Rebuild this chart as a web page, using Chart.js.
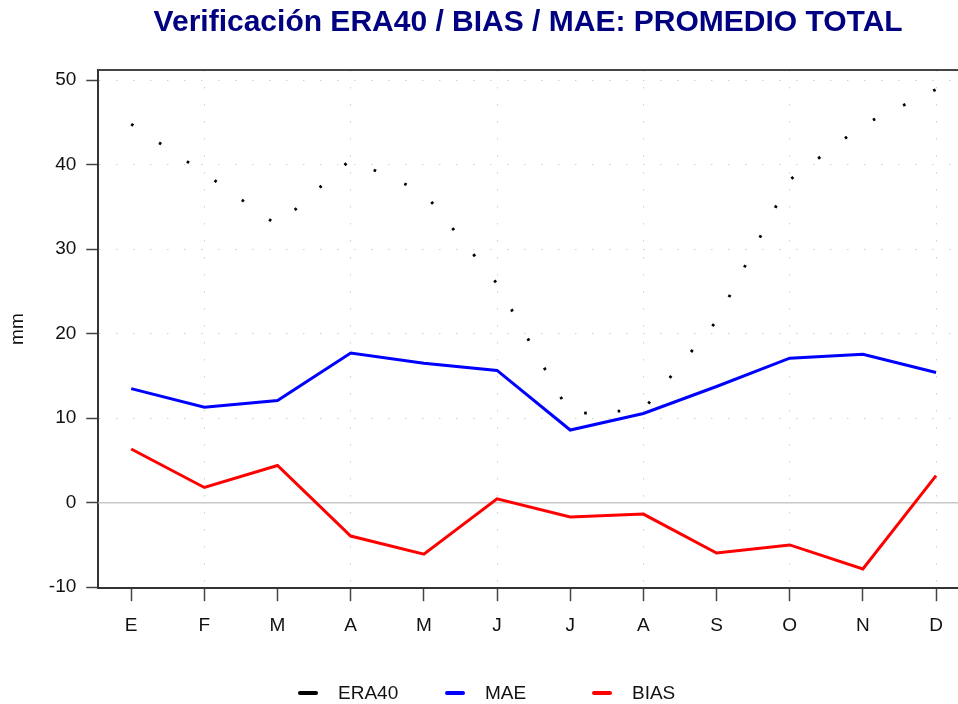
<!DOCTYPE html>
<html>
<head>
<meta charset="utf-8">
<script src="https://cdn.jsdelivr.net/npm/chart.js@4/dist/chart.umd.min.js"></script>
<style>
  body { margin: 0; background: #fff; }
  #wrap { position: relative; width: 958px; height: 704px; }
  #legend { position: absolute; left: 298px; top: 682px; display: flex; font-family: 'Liberation Sans', Arial, sans-serif; font-size: 19px; color: #111; }
  .item { width: 147px; display: flex; align-items: center; height: 22px; }
  .sw { width: 20px; height: 4px; border-radius: 2px; margin-right: 20px; }
</style>
</head>
<body>
<div id="wrap">
  <canvas id="chart" width="958" height="704"></canvas>
  <div id="legend"></div>
</div>
<script>
// months (Spanish initials)
const months = ['E', 'F', 'M', 'A', 'M', 'J', 'J', 'A', 'S', 'O', 'N', 'D'];
const era40 = [44.8, 39.0, 32.8, 40.6, 36.7, 25.9, 10.5, 11.0, 21.5, 38.2, 44.7, 48.9];
const mae = [13.5, 11.3, 12.1, 17.7, 16.5, 15.65, 8.6, 10.55, 13.75, 17.1, 17.55, 15.4];
const bias = [6.35, 1.8, 4.4, -3.95, -6.1, 0.45, -1.7, -1.35, -5.95, -5.0, -7.85, 3.2];

const series = [
  { label: 'ERA40', values: era40, color: '#000000' },
  { label: 'MAE', values: mae, color: '#0000ff' },
  { label: 'BIAS', values: bias, color: '#ff0000' }
];

const toPoints = arr => arr.map((v, i) => ({ x: i, y: v }));

// zero line + top frame line
const extras = {
  id: 'extras',
  beforeDatasetsDraw(chart) {
    const { ctx, chartArea, scales } = chart;
    const y0 = scales.y.getPixelForValue(0);
    ctx.save();
    ctx.strokeStyle = '#c8c8c8';
    ctx.lineWidth = 1.5;
    ctx.beginPath();
    ctx.moveTo(chartArea.left, y0);
    ctx.lineTo(chartArea.right, y0);
    ctx.stroke();
    ctx.strokeStyle = '#444';
    ctx.lineWidth = 2;
    ctx.beginPath();
    ctx.moveTo(chartArea.left, chartArea.top);
    ctx.lineTo(chartArea.right, chartArea.top);
    ctx.stroke();
    ctx.restore();
  }
};

const ctx = document.getElementById('chart').getContext('2d');
const myChart = new Chart(ctx, {
  type: 'line',
  data: {
    datasets: [
      {
        label: 'ERA40',
        data: toPoints(era40),
        borderColor: '#000',
        borderWidth: 2.8,
        borderDash: [2.6, 30.93],
        borderCapStyle: 'butt',
        pointRadius: 0,
        tension: 0
      },
      {
        label: 'MAE',
        data: toPoints(mae),
        borderColor: '#0000ff',
        borderWidth: 3,
        pointRadius: 0,
        tension: 0
      },
      {
        label: 'BIAS',
        data: toPoints(bias),
        borderColor: '#ff0000',
        borderWidth: 3,
        pointRadius: 0,
        tension: 0
      }
    ]
  },
  options: {
    responsive: false,
    animation: false,
    layout: { padding: { left: 6, right: 0, top: 0, bottom: 54 } },
    plugins: {
      legend: { display: false },
      tooltip: { enabled: false },
      title: {
        display: true,
        fullSize: false,
        text: 'Verificación ERA40 / BIAS / MAE: PROMEDIO TOTAL',
        color: '#000080',
        font: { family: 'Liberation Sans', size: 30, weight: 'bold' },
        padding: { top: 5, bottom: 29 }
      }
    },
    scales: {
      x: {
        type: 'linear',
        min: -0.45,
        max: 11.3,
        ticks: {
          stepSize: 1,
          includeBounds: false,
          autoSkip: false,
          maxRotation: 0,
          padding: 13,
          color: '#111',
          font: { family: 'Liberation Sans', size: 19 },
          callback: v => months[v]
        },
        grid: {
          color: c => (c.tick && c.tick.value % 2 === 1) ? '#cfcfcf' : 'rgba(0,0,0,0)',
          lineWidth: 1,
          tickLength: 13,
          tickColor: '#444',
          tickWidth: 1.5
        },
        border: { color: '#333', width: 2, dash: [1.5, 15.5] }
      },
      y: {
        type: 'linear',
        min: -10.12,
        max: 51.2,
        ticks: {
          stepSize: 10,
          includeBounds: false,
          padding: 10,
          color: '#111',
          font: { family: 'Liberation Sans', size: 19 }
        },
        grid: {
          color: c => (c.tick && c.tick.value === 0) ? 'rgba(0,0,0,0)' : '#cfcfcf',
          lineWidth: 1,
          tickLength: 12,
          tickColor: '#444',
          tickWidth: 1.5
        },
        border: { color: '#333', width: 2, dash: [1.5, 15.5] },
        title: {
          display: true,
          text: 'mm',
          color: '#111',
          font: { family: 'Liberation Sans', size: 19 },
          padding: { top: 0, bottom: 10 }
        }
      }
    }
  },
  plugins: [extras]
});

// legend in fixed-width columns
const legend = document.getElementById('legend');
series.forEach(s => {
  const item = document.createElement('div');
  item.className = 'item';
  item.innerHTML = '<span class="sw" style="background:' + s.color + '"></span>' + s.label;
  legend.appendChild(item);
});
</script>
</body>
</html>
